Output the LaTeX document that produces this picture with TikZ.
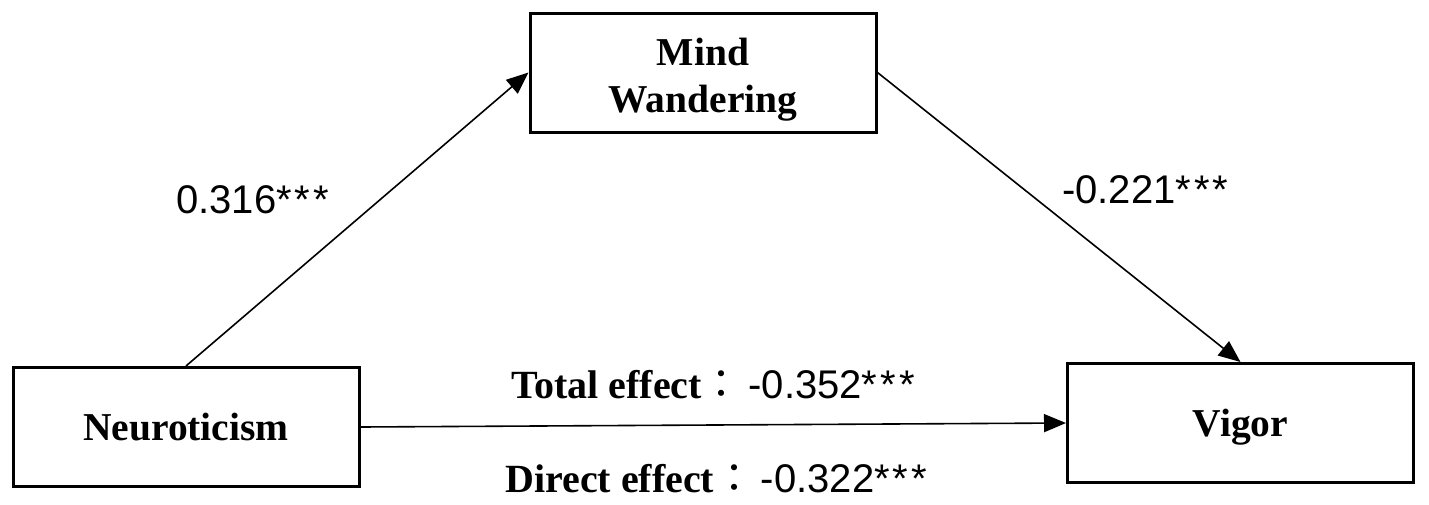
\documentclass[tikz,border=0pt]{standalone}
\usepackage{fontspec}
\setmainfont{Liberation Serif}
\newfontfamily\arialfont{Liberation Sans}
\newfontfamily\cjk{Noto Sans CJK TC}
\usepackage{tikz}
\usetikzlibrary{arrows.meta}

\newcommand\sig{*\kern3pt*\kern3pt*}

\tikzset{
    box/.style={draw, line width=3pt, minimum width=346pt, minimum height=119pt,
        inner sep=0pt, align=center, text height=27pt, text depth=0pt,
        font=\fontsize{39.5}{47}\selectfont\bfseries},
    link/.style={-{Triangle[length=22pt,width=18pt]}, line width=1.6pt},
    coef/.style={anchor=base west, inner sep=0pt, font=\fontsize{40}{42}\selectfont\arialfont},
}

\begin{document}
\begin{tikzpicture}[x=1pt, y=-1pt]
    \useasboundingbox (0,0) rectangle (1429,504);

    \node[box] (neuro) at (186,427) {Neuroticism};
    \node[box, text height=79pt] (mind) at (703,72.5) {Mind\\Wandering};
    \node[box] (vigor) at (1240.5,423) {Vigor};

    \draw[link] (neuro.north) -- (mind.west);
    \draw[link] (mind.east) -- (vigor.north);
    \draw[link] (neuro.east) -- (vigor.west);

    \node[coef] (a) at (176,213) {0.316\sig};
    \node[coef] (b) at (1062,203) {-0.221\sig};
    \node[coef] (total) at (511,398) {{\rmfamily\bfseries Total effect}{\cjk：}\,-0.352\sig};
    \node[coef] (direct) at (505,492) {{\rmfamily\bfseries Direct effect}{\cjk：}\,-0.322\sig};
\end{tikzpicture}
\end{document}
